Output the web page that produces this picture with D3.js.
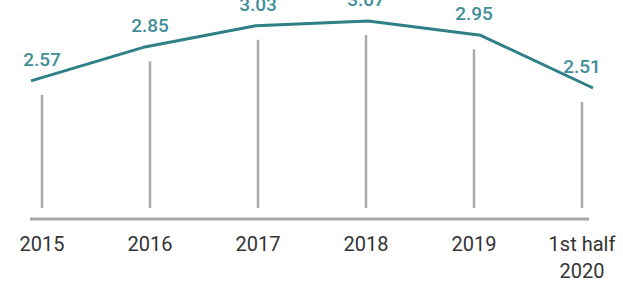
<!DOCTYPE html>
<html>
<head>
<meta charset="utf-8">
<script src="https://cdn.jsdelivr.net/npm/d3@7"></script>
<style>
  body { margin: 0; background: #fff; }
  svg { display: block; }
</style>
</head>
<body>
<div id="chart"></div>
<script>
// data
var periods = ["2015", "2016", "2017", "2018", "2019", "1st half 2020"];
var values = [2.57, 2.85, 3.03, 3.07, 2.95, 2.51];
var tickLines = [["2015"], ["2016"], ["2017"], ["2018"], ["2019"], ["1st half", "2020"]];

var width = 623, height = 287;
var baseY = 219;      // grey base line
var stemBottom = 208; // bottom of the grey stems

var svg = d3.select("#chart")
  .append("svg")
  .attr("width", width)
  .attr("height", height)
  .attr("font-family", "Roboto, sans-serif");

// stems & labels sit on this scale
var x = d3.scalePoint().domain(periods).range([42, 582]);
// the teal line runs a bit wider than the stems
var xLine = d3.scalePoint().domain(periods).range([31, 593]);
// not quite linear in the original, fitted roughly
var y = d3.scaleLinear().domain([2.51, 3.07]).range([88, 21]);

var data = periods.map(function (p, i) { return { p: p, v: values[i] }; });

// base line
svg.append("line")
  .attr("x1", 30).attr("x2", 589)
  .attr("y1", baseY).attr("y2", baseY)
  .attr("stroke", "#a9a9a9")
  .attr("stroke-width", 3);

// stems
svg.selectAll(".stem")
  .data(data)
  .enter()
  .append("line")
  .attr("class", "stem")
  .attr("x1", d => x(d.p)).attr("x2", d => x(d.p))
  .attr("y1", d => y(d.v) + 14)
  .attr("y2", stemBottom)
  .attr("stroke", "#aaaaaa")
  .attr("stroke-width", 2.5);

// the line
var line = d3.line()
  .x(d => xLine(d.p))
  .y(d => y(d.v));

svg.append("path")
  .datum(data)
  .attr("d", line)
  .attr("fill", "none")
  .attr("stroke", "#2f7f86")
  .attr("stroke-width", 3)
  .attr("stroke-linejoin", "round");

// value labels
svg.selectAll(".val")
  .data(data)
  .enter()
  .append("text")
  .attr("class", "val")
  .attr("x", d => x(d.p))
  .attr("y", d => y(d.v) - 15)
  .attr("text-anchor", "middle")
  .attr("font-size", 19)
  .attr("font-weight", 500)
  .attr("fill", "#3f8e97")
  .text(d => d.v.toFixed(2));

// period labels
var lab = svg.selectAll(".lab")
  .data(tickLines)
  .enter()
  .append("text")
  .attr("class", "lab")
  .attr("x", (d, i) => x(periods[i]))
  .attr("y", 251)
  .attr("text-anchor", "middle")
  .attr("font-size", 20)
  .attr("fill", "#333");

lab.selectAll("tspan")
  .data(d => d)
  .enter()
  .append("tspan")
  .attr("x", function () { return d3.select(this.parentNode).attr("x"); })
  .attr("dy", (d, i) => i === 0 ? 0 : 27)
  .text(d => d);
</script>
</body>
</html>
